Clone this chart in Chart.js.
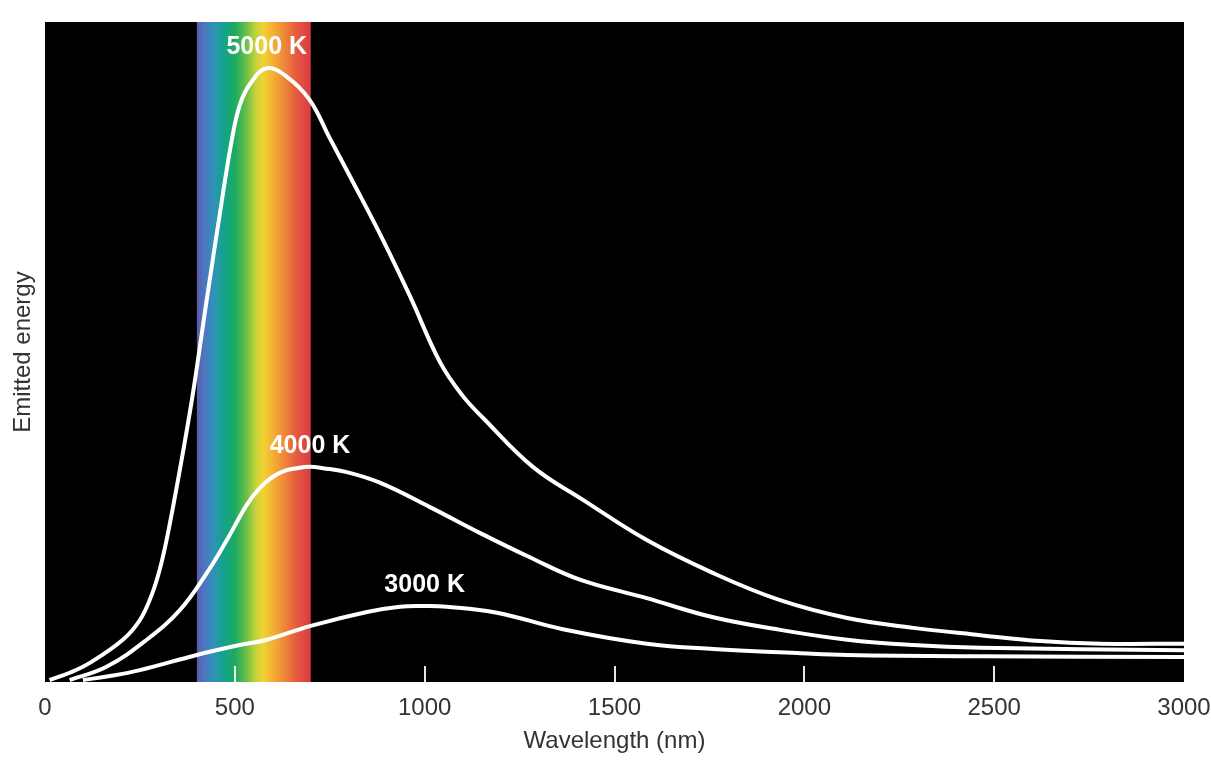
<!DOCTYPE html>
<html>
<head>
<meta charset="utf-8">
<script src="https://cdn.jsdelivr.net/npm/chart.js@4/dist/chart.umd.min.js"></script>
<style>
  html, body { margin: 0; padding: 0; background: #ffffff; }
  canvas { display: block; }
</style>
</head>
<body>
<canvas id="c" width="1211" height="762"></canvas>
<script>
// ---- data (wavelength in nm, emitted energy in relative units 0-100) ----
const seriesNames = ['5000 K', '4000 K', '3000 K'];

const wl5000 = [12, 65, 118, 205, 250, 281, 302, 323, 355, 389, 426, 466, 492, 513, 540, 584, 637, 697, 750, 808, 890, 961, 1040, 1098, 1154, 1285, 1417, 1585, 1760, 1936, 2113, 2287, 2464, 2622, 2780, 3000];
const e5000  = [0.3, 1.4, 2.9, 6.4, 9.4, 13.2, 17.0, 22.3, 32.1, 43.5, 57.9, 73.0, 82.1, 87.4, 90.6, 93.0, 91.7, 88.2, 82.4, 76.1, 67.0, 58.5, 48.5, 43.5, 40.0, 32.6, 27.6, 21.5, 16.5, 12.4, 9.7, 8.2, 7.1, 6.2, 5.8, 5.8];

const wl4000 = [65, 162, 268, 355, 426, 479, 531, 566, 600, 631, 663, 698, 732, 795, 882, 1014, 1145, 1277, 1409, 1585, 1760, 1936, 2113, 2287, 2464, 3000];
const e4000  = [0.3, 2.3, 6.4, 10.9, 16.5, 21.5, 26.8, 29.4, 31.1, 32.0, 32.4, 32.6, 32.4, 31.8, 30.2, 26.5, 22.6, 18.9, 15.5, 12.7, 9.8, 7.9, 6.4, 5.6, 5.2, 4.8];

const wl3000 = [100, 171, 250, 400, 513, 584, 700, 848, 935, 1000, 1058, 1190, 1364, 1585, 1760, 1981, 2113, 2464, 3000];
const e3000  = [0.3, 0.9, 1.8, 4.1, 5.6, 6.4, 8.5, 10.6, 11.4, 11.5, 11.4, 10.5, 8.0, 5.8, 5.0, 4.4, 4.1, 3.9, 3.8];

const xTicks = [0, 500, 1000, 1500, 2000, 2500, 3000];
const visibleBand = [400, 700]; // visible light range, nm

// ---- styles ----
const FONT = '"Liberation Sans", Arial, Helvetica, sans-serif';
const TEXT = '#333333';
const bandStops = [
  [400, '#5d5aa8'], [420, '#4c76c0'], [445, '#2f93b8'], [470, '#14a28c'],
  [500, '#1caa62'], [530, '#6abf48'], [555, '#c6d23a'], [575, '#f0d332'],
  [600, '#f4b134'], [630, '#ee8938'], [660, '#e75d3e'], [690, '#dc4244'], [700, '#d83a40']
];

function pts(xs, ys) { return xs.map((x, i) => ({ x, y: ys[i] })); }

const backdrop = {
  id: 'backdrop',
  beforeDatasetsDraw(chart) {
    const { ctx, chartArea: a, scales: { x } } = chart;
    ctx.save();
    ctx.fillStyle = '#000000';
    ctx.fillRect(a.left, a.top, a.right - a.left, a.bottom - a.top);
    const x0 = x.getPixelForValue(visibleBand[0]);
    const x1 = x.getPixelForValue(visibleBand[1]);
    const g = ctx.createLinearGradient(x0, 0, x1, 0);
    bandStops.forEach(([nm, c]) => g.addColorStop((nm - visibleBand[0]) / (visibleBand[1] - visibleBand[0]), c));
    ctx.fillStyle = g;
    ctx.fillRect(x0, a.top, x1 - x0, a.bottom - a.top);
    // inner tick marks
    ctx.strokeStyle = 'rgba(255,255,255,0.9)';
    ctx.lineWidth = 2;
    xTicks.slice(1, -1).forEach(v => {
      const px = Math.round(x.getPixelForValue(v));
      ctx.beginPath();
      ctx.moveTo(px, a.bottom);
      ctx.lineTo(px, a.bottom - 16);
      ctx.stroke();
    });
    ctx.restore();
  },
  afterDatasetsDraw(chart) {
    const { ctx } = chart;
    ctx.save();
    ctx.fillStyle = '#ffffff';
    ctx.font = 'bold 25px ' + FONT;
    ctx.textAlign = 'center';
    ctx.textBaseline = 'middle';
    chart.data.datasets.forEach((ds, i) => {
      const meta = chart.getDatasetMeta(i);
      let best = 0;
      ds.data.forEach((p, j) => { if (p.y > ds.data[best].y) best = j; });
      const el = meta.data[best];
      ctx.fillText(ds.label, el.x, el.y - 21);
    });
    ctx.restore();
  }
};

const line = (label, data) => ({
  label, data,
  borderColor: '#ffffff',
  borderWidth: 4,
  pointRadius: 0,
  fill: false,
  tension: 0.4,
  capBezierPoints: true
});

new Chart(document.getElementById('c'), {
  type: 'line',
  data: {
    datasets: [
      line(seriesNames[0], pts(wl5000, e5000)),
      line(seriesNames[1], pts(wl4000, e4000)),
      line(seriesNames[2], pts(wl3000, e3000))
    ]
  },
  options: {
    responsive: false,
    animation: false,
    layout: { padding: { top: 22, right: 27, left: 0, bottom: 0 } },
    plugins: { legend: { display: false }, tooltip: { enabled: false } },
    scales: {
      x: {
        type: 'linear', min: 0, max: 3000,
        afterBuildTicks: s => { s.ticks = xTicks.map(v => ({ value: v })); },
        ticks: { autoSkip: false, maxRotation: 0, padding: 12, color: TEXT, font: { family: FONT, size: 24 },
                 callback: v => String(v) },
        grid: { display: false, drawTicks: false },
        border: { display: false },
        title: { display: true, text: 'Wavelength (nm)', color: TEXT, font: { family: FONT, size: 24 }, padding: { top: 0, bottom: 6 } },
        afterFit: s => { s.height = 80; s.paddingLeft = 0; s.paddingRight = 0; }
      },
      y: {
        min: 0, max: 100,
        ticks: { display: false },
        grid: { display: false, drawTicks: false },
        border: { display: false },
        title: { display: true, text: 'Emitted energy', color: TEXT, font: { family: FONT, size: 24 }, padding: { top: 9, bottom: 0 } },
        afterFit: s => { s.width = 45; }
      }
    }
  },
  plugins: [backdrop]
});
</script>
</body>
</html>
